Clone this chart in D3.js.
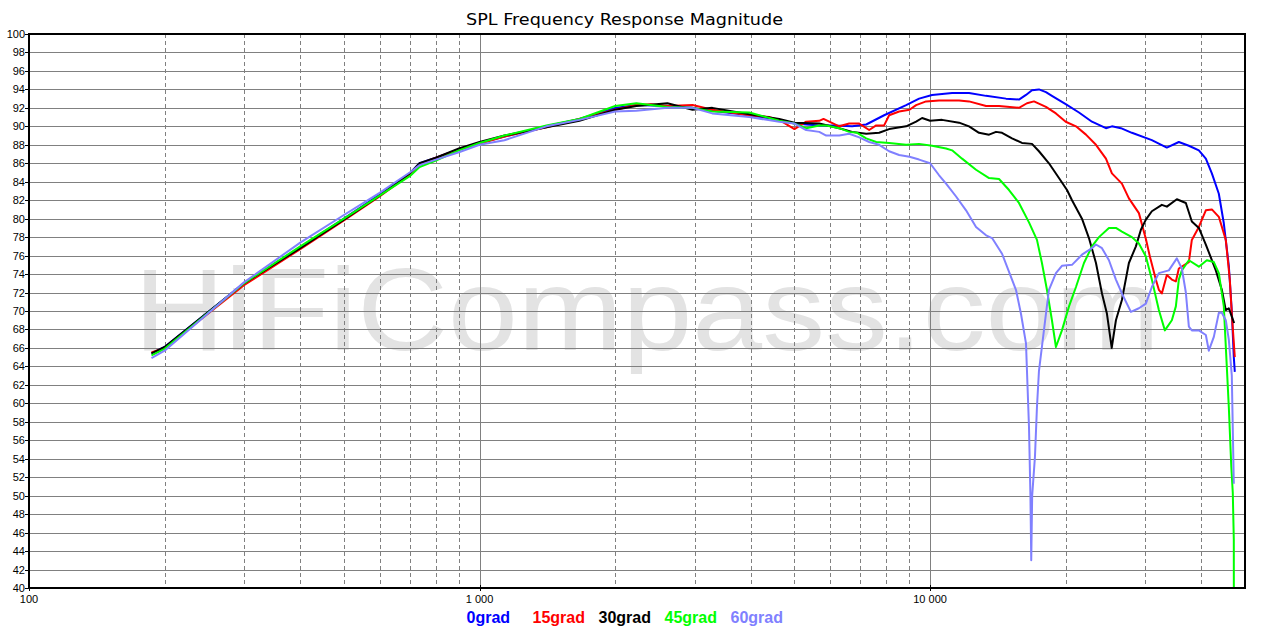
<!DOCTYPE html>
<html>
<head>
<meta charset="utf-8">
<script src="https://cdn.jsdelivr.net/npm/d3@7"></script>
<style>
  html, body { margin: 0; padding: 0; background: #fff; }
  svg { display: block; }
</style>
</head>
<body>
<svg id="chart" width="1276" height="635"></svg>
<script>
// ---------- DATA ----------
const title = "SPL Frequency Response Magnitude";
const watermark = "HiFiCompass.com";
const seriesNames = ["0grad", "15grad", "30grad", "45grad", "60grad"];
const seriesColors = ["#0000ff", "#ff0000", "#000000", "#00ff00", "#8080ff"];
const yTicks = [40,42,44,46,48,50,52,54,56,58,60,62,64,66,68,70,72,74,76,78,80,82,84,86,88,90,92,94,96,98,100];
const xTickLabels = [[100, "100"], [1000, "1 000"], [10000, "10 000"]];
const xMinorGrid = [200,300,400,500,600,700,800,900,2000,3000,4000,5000,6000,7000,8000,9000,20000,30000,40000];
const xMajorGrid = [1000, 10000];

// [frequency Hz, SPL dB]
const grad0 = [[187,65.4],[200,66.1],[300,73.0],[400,76.9],[500,80.0],[600,82.6],[700,84.9],[736,86.0],[800,86.6],[900,87.5],[1000,88.2],[1136,88.9],[1408,90.0],[1666,90.8],[2000,92.0],[2229,92.3],[2612,92.2],[2970,92.0],[3285,91.7],[3969,91.2],[4626,90.7],[5000,90.3],[5675,90.1],[6065,90.1],[6715,90.0],[7214,90.2],[7907,91.2],[8848,92.3],[9454,93.0],[10102,93.4],[11190,93.6],[12203,93.6],[13313,93.3],[14741,93.0],[15750,92.9],[16325,93.4],[16833,93.9],[17444,94.0],[18078,93.7],[18640,93.3],[20000,92.4],[21404,91.5],[22871,90.5],[24566,89.8],[25327,90.0],[26518,89.8],[28050,89.3],[31060,88.5],[33535,87.7],[35654,88.3],[37529,87.9],[39497,87.4],[40930,86.5],[42209,84.9],[43740,82.7],[44869,79.5],[46030,74.9],[46738,70.0],[47220,65.0],[47460,63.4]];

const grad15 = [[187,65.5],[200,66.0],[300,72.8],[400,76.7],[500,79.8],[600,82.4],[700,84.8],[736,85.9],[800,86.6],[900,87.5],[1000,88.1],[1136,88.9],[1408,89.9],[1666,90.8],[2000,91.8],[2229,92.3],[2400,92.4],[2612,92.2],[2970,92.3],[3285,91.8],[3969,91.2],[4400,91.0],[4626,90.7],[5000,89.7],[5309,90.5],[5675,90.6],[5800,90.8],[6285,90.0],[6614,90.3],[6962,90.3],[7325,89.6],[7592,90.1],[7907,90.1],[8112,91.2],[8537,91.6],[9000,91.8],[9311,92.3],[9797,92.7],[10471,92.8],[11597,92.8],[12203,92.7],[13313,92.2],[14224,92.2],[15750,92.0],[16409,92.5],[17004,92.7],[18078,92.1],[19025,91.4],[20000,90.5],[21077,90.0],[22181,89.1],[23345,88.0],[24566,86.5],[25327,84.9],[26654,83.8],[27624,82.2],[29072,80.6],[30128,77.8],[30750,75.9],[31700,73.4],[32194,72.3],[32690,71.9],[33535,73.9],[34403,73.4],[35115,73.2],[35654,74.6],[37529,75.3],[38104,77.7],[39497,79.1],[40930,80.9],[42209,81.0],[43740,80.2],[45327,77.7],[46263,73.4],[46738,69.7],[47460,65.0]];

const grad30 = [[187,65.4],[200,66.1],[300,73.0],[400,76.8],[500,79.9],[600,82.5],[700,84.9],[736,86.0],[800,86.6],[900,87.6],[1000,88.3],[1136,89.0],[1408,89.9],[1666,90.6],[2000,91.8],[2229,92.2],[2612,92.5],[2970,91.8],[3285,92.0],[3969,91.3],[4626,90.8],[5000,90.4],[5675,90.3],[6285,89.8],[6715,89.4],[7214,89.2],[7708,89.3],[8112,89.7],[8848,90.0],[9311,90.5],[9600,90.9],[10000,90.6],[10632,90.7],[11597,90.4],[12203,90.0],[12841,89.3],[13518,89.1],[14008,89.4],[14445,89.3],[15200,88.7],[15995,88.2],[16833,88.1],[17444,87.3],[18358,86.0],[19320,84.4],[20134,83.1],[20654,82.0],[21733,80.0],[22521,77.9],[23345,75.2],[24073,71.9],[24693,69.7],[25300,66.0],[25851,69.0],[26654,71.2],[27624,75.2],[28631,77.0],[29368,78.8],[30128,79.9],[31060,80.8],[32690,81.5],[33535,81.3],[35294,82.1],[36955,81.7],[38104,79.7],[39497,79.0],[40930,77.2],[43073,74.4],[44412,72.3],[45327,70.1],[46030,70.3],[46738,69.4],[47300,68.7]];

const grad45 = [[187,65.2],[200,65.9],[300,73.0],[400,77.0],[500,80.0],[600,82.5],[700,84.6],[736,85.6],[800,86.3],[900,87.4],[1000,88.2],[1136,89.0],[1408,90.1],[1666,90.8],[2000,92.2],[2229,92.5],[2612,92.1],[2970,92.0],[3285,91.6],[3969,91.5],[4626,90.6],[5000,90.3],[5309,89.8],[5675,90.1],[5882,90.1],[6285,89.8],[6614,89.4],[6890,89.3],[7214,88.7],[7592,88.3],[8112,88.2],[8848,88.0],[9454,88.1],[10102,87.9],[10851,87.6],[11190,87.4],[11776,86.5],[12647,85.3],[13518,84.4],[14224,84.3],[14970,83.1],[15750,81.7],[16577,79.6],[17267,77.7],[17712,75.2],[18170,72.3],[18640,69.0],[19025,66.1],[19618,67.9],[20339,70.5],[21077,72.6],[21956,75.2],[22871,77.0],[23705,78.0],[24945,79.0],[25851,79.0],[26654,78.6],[28050,78.0],[29072,77.3],[30128,75.9],[31060,73.4],[32194,70.1],[33197,67.9],[34403,69.0],[35115,70.5],[35654,73.4],[36210,74.4],[37529,75.5],[39497,74.8],[41142,75.5],[42637,75.3],[43740,74.1],[44869,70.5],[45557,64.0],[46030,59.6],[46620,53.1],[46976,50.3],[47220,45.2],[47230,40.0]];

const grad60 = [[187,64.9],[200,65.7],[300,73.1],[400,77.4],[500,80.4],[600,82.8],[700,85.0],[736,85.8],[800,86.4],[900,87.2],[1000,88.0],[1136,88.5],[1408,90.0],[1666,90.7],[2000,91.6],[2229,91.7],[2612,92.0],[2970,92.0],[3285,91.4],[3969,91.0],[4626,90.5],[5000,90.3],[5309,89.6],[5675,89.4],[5882,89.0],[6285,89.0],[6614,89.2],[6962,88.8],[7325,88.3],[7708,88.0],[8112,87.3],[8537,86.9],[9000,86.7],[9454,86.4],[10000,86.0],[10471,84.7],[10851,83.8],[11420,82.4],[12017,80.9],[12647,79.1],[13313,78.2],[13727,77.9],[14445,76.2],[15200,73.4],[15510,72.3],[15912,69.7],[16325,66.5],[16577,57.5],[16700,50.0],[16770,43.0],[16850,50.0],[17090,54.2],[17267,59.6],[17444,63.5],[18078,69.7],[18358,72.3],[19025,74.1],[19618,74.9],[20654,75.0],[21733,76.1],[22871,76.8],[23345,77.2],[24073,76.8],[24945,75.5],[25851,73.4],[26654,71.9],[27908,69.9],[29072,70.3],[30128,70.8],[31060,72.6],[32194,74.1],[33877,74.4],[35294,75.7],[36210,74.6],[36955,72.0],[37529,68.3],[38104,67.9],[39497,67.9],[40930,67.4],[41560,65.7],[42637,67.2],[43740,69.8],[44412,69.8],[45327,69.0],[46030,66.9],[46738,63.0],[47220,51.3]];

const allSeries = [grad0, grad15, grad30, grad45, grad60];

// ---------- LAYOUT ----------
const svg = d3.select("#chart");
const L = 29, R = 1245, T = 34, B = 588;
const x = d3.scaleLog().domain([100, 50000]).range([L, R]);
const y = d3.scaleLinear().domain([40, 100]).range([B, T]);
const px = v => Math.round(v) + 0.5;
const FONT = "'Liberation Sans', Arial, sans-serif";

// watermark
svg.append("text")
  .attr("x", 134).attr("y", 350)
  .attr("font-family", FONT)
  .attr("font-size", 116)
  .attr("fill", "#e3e3e3")
  .attr("textLength", 1026)
  .attr("lengthAdjust", "spacingAndGlyphs")
  .text(watermark);

// horizontal grid
svg.append("g").selectAll("line")
  .data(yTicks.filter(d => d > 40 && d < 100))
  .join("line")
  .attr("x1", L).attr("x2", R)
  .attr("y1", d => px(y(d))).attr("y2", d => px(y(d)))
  .attr("stroke", "#808080").attr("stroke-width", 1);

// vertical minor grid (dashed)
svg.append("g").selectAll("line")
  .data(xMinorGrid)
  .join("line")
  .attr("x1", d => px(x(d))).attr("x2", d => px(x(d)))
  .attr("y1", T).attr("y2", B)
  .attr("stroke", "#808080").attr("stroke-width", 1)
  .attr("stroke-dasharray", "4,3");

// vertical major grid
svg.append("g").selectAll("line")
  .data(xMajorGrid)
  .join("line")
  .attr("x1", d => px(x(d))).attr("x2", d => px(x(d)))
  .attr("y1", T).attr("y2", B)
  .attr("stroke", "#808080").attr("stroke-width", 1);

// series lines
const line = d3.line().x(d => x(d[0])).y(d => y(d[1]));
svg.append("clipPath").attr("id", "plotclip")
  .append("rect").attr("x", L).attr("y", T).attr("width", R - L).attr("height", B - T);
svg.append("g").attr("clip-path", "url(#plotclip)")
  .selectAll("path")
  .data(allSeries)
  .join("path")
  .attr("d", line)
  .attr("fill", "none")
  .attr("stroke", (d, i) => seriesColors[i])
  .attr("stroke-width", 2)
  .attr("stroke-linejoin", "round");

// frame
svg.append("rect")
  .attr("x", L).attr("y", T).attr("width", R - L).attr("height", B - T)
  .attr("fill", "none").attr("stroke", "#000").attr("stroke-width", 2);

// y axis ticks + labels
const yg = svg.append("g");
yg.selectAll("line").data(yTicks).join("line")
  .attr("x1", L - 4).attr("x2", L)
  .attr("y1", d => px(y(d))).attr("y2", d => px(y(d)))
  .attr("stroke", "#000");
yg.selectAll("text").data(yTicks).join("text")
  .attr("x", L - 4).attr("y", d => y(d) + 4)
  .attr("text-anchor", "end")
  .attr("font-family", FONT).attr("font-size", 11)
  .attr("fill", "#000")
  .text(d => d);

// x axis labels + ticks
const xg = svg.append("g");
xg.selectAll("line").data(xTickLabels).join("line")
  .attr("x1", d => px(x(d[0]))).attr("x2", d => px(x(d[0])))
  .attr("y1", B - 3).attr("y2", B + 3)
  .attr("stroke", "#000");
xg.selectAll("text").data(xTickLabels).join("text")
  .attr("x", d => x(d[0])).attr("y", 603)
  .attr("text-anchor", "middle")
  .attr("font-family", FONT).attr("font-size", 11)
  .attr("fill", "#000")
  .text(d => d[1]);

// title
svg.append("text")
  .attr("x", 466).attr("y", 25)
  .attr("font-family", "'DejaVu Sans', Verdana, sans-serif")
  .attr("font-size", 16)
  .attr("fill", "#000")
  .attr("textLength", 317)
  .attr("lengthAdjust", "spacingAndGlyphs")
  .text(title);

// legend
svg.append("g").selectAll("text").data(seriesNames).join("text")
  .attr("x", (d, i) => 466.5 + i * 66)
  .attr("y", 623)
  .attr("font-family", FONT).attr("font-size", 16).attr("font-weight", "bold")
  .attr("fill", (d, i) => seriesColors[i])
  .text(d => d);
</script>
</body>
</html>
